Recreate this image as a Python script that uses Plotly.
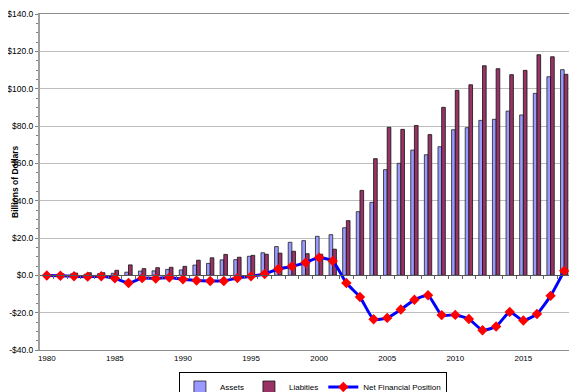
import plotly.graph_objects as go

years = list(range(1980, 2019))
assets = [0.3, 0.5, 0.8, 0.6, 0.9, 1.1, 1.7, 2.3, 2.4, 3.2, 2.9,
          5.5, 6.4, 8.3, 8.4, 10.2, 12.1, 15.4, 17.7, 18.6, 20.9,
          21.8, 25.5, 34.1, 39.1, 56.6, 60.0, 67.1, 64.6, 68.9, 78.0,
          79.1, 83.0, 83.6, 88.0, 85.9, 97.5, 106.4, 110.2]
liabilities = [0.3, 0.8, 1.2, 1.4, 1.4, 2.7, 5.6, 3.6, 4.1, 4.3, 4.8,
               8.1, 9.4, 11.2, 9.7, 10.7, 11.3, 11.9, 12.9, 11.6, 11.3,
               14.0, 29.3, 45.5, 62.5, 79.3, 78.2, 80.3, 75.4, 90.0, 99.1,
               102.1, 112.3, 110.7, 107.5, 109.8, 118.2, 117.1, 107.7]
net = [-0.1, -0.2, -0.5, -0.7, -0.5, -1.6, -4.1, -1.5, -1.7, -1.2, -2.1,
       -2.8, -3.0, -3.0, -1.4, -0.5, 0.7, 3.4, 4.8, 6.8, 9.5,
       7.7, -4.1, -11.6, -23.5, -22.8, -18.3, -13.1, -10.7, -21.3, -21.2,
       -23.4, -29.4, -27.4, -19.6, -24.2, -20.7, -11.0, 2.4]

y_ticks = [-40, -20, 0, 20, 40, 60, 80, 100, 120, 140]
y_labels = [("-$" if v < 0 else "$") + f"{abs(v):.1f}" for v in y_ticks]
x_labels = [y for y in years if y % 5 == 0]

font = "Liberation Sans, Arial, sans-serif"

fig = go.Figure()
fig.add_trace(go.Bar(x=years, y=assets, name="Assets",
                     marker=dict(color="#9999ff", line=dict(color="#222222", width=0.8))))
fig.add_trace(go.Bar(x=years, y=liabilities, name="Liabities",
                     marker=dict(color="#993366", line=dict(color="#111111", width=0.8))))
fig.add_trace(go.Scatter(x=years, y=net, name="Net Financial Position", mode="lines+markers",
                         line=dict(color="#0000ff", width=3, shape="spline", smoothing=0.5),
                         marker=dict(color="#ff0000", symbol="diamond", size=8)))
fig.add_trace(go.Scatter(x=years, y=[0] * len(years), xaxis="x2", mode="lines",
                         line=dict(color="rgba(0,0,0,0)"), showlegend=False, hoverinfo="skip"))

rng = [years[0] - 0.5, years[-1] + 0.5]
fig.update_layout(
    width=569, height=384,
    margin=dict(l=32, r=6, t=6, b=42, autoexpand=False),
    paper_bgcolor="white", plot_bgcolor="white",
    font=dict(family=font, size=8, color="#000000"),
    barmode="group", bargap=0.46, bargroupgap=0.0,
    xaxis=dict(range=rng, tickmode="array", tickvals=x_labels, ticktext=[str(v) for v in x_labels],
               ticks="", showgrid=False, zeroline=False, showline=True, linecolor="#8c8c8c",
               linewidth=1, mirror=True, tickfont=dict(size=8, family=font), automargin=False),
    xaxis2=dict(range=rng, overlaying="x", anchor="free", position=(0 - y_ticks[0]) / (y_ticks[-1] - y_ticks[0]),
                side="bottom", showticklabels=False, tickmode="array",
                tickvals=[y - 0.5 for y in years[1:]], ticks="outside", ticklen=3, tickcolor="#666666",
                showgrid=False, zeroline=False, showline=True, linecolor="#555555", linewidth=1,
                automargin=False),
    yaxis=dict(range=[y_ticks[0], y_ticks[-1]], tickmode="array", tickvals=y_ticks, ticktext=y_labels,
               showgrid=True, gridcolor="#bdbdbd", gridwidth=1.2, zeroline=False,
               showline=True, linecolor="#a0a0a0", linewidth=2, mirror=True,
               ticks="outside", ticklen=3, tickcolor="#808080", automargin=False,
               minor=dict(ticks="outside", ticklen=2, dtick=5, tickcolor="#808080", showgrid=False),
               tickfont=dict(size=8.5, family=font)),
    annotations=[dict(text="<b>Billions of Dollars</b>", xref="paper", yref="paper",
                      x=-32 / 531, xanchor="left", y=0.5, yanchor="middle", textangle=-90,
                      showarrow=False, font=dict(size=8.5, family=font))],
    legend=dict(orientation="h", x=0.514, xanchor="center", y=-0.064, yanchor="top",
                bordercolor="#000000", borderwidth=1, font=dict(size=8, family=font),
                itemwidth=30, tracegroupgap=0),
)
fig.write_html("out.html")
